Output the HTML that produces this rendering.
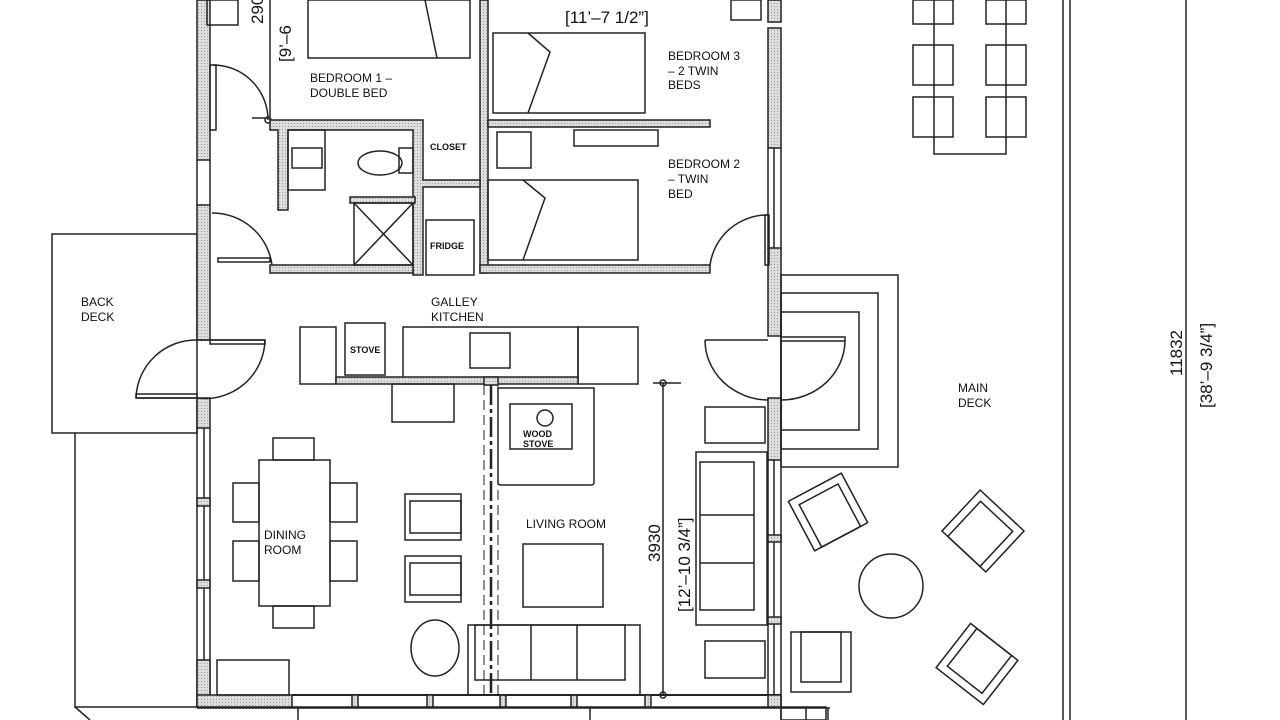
<!DOCTYPE html>
<html><head><meta charset="utf-8"><style>
html,body{margin:0;padding:0;background:#fff;}
svg{display:block}
text{font-family:"Liberation Sans",sans-serif;fill:#111}
</style></head><body>
<svg width="1280" height="720" viewBox="0 0 1280 720" xmlns="http://www.w3.org/2000/svg">
<defs>
<pattern id="h" width="3" height="3" patternUnits="userSpaceOnUse"><rect width="3" height="3" fill="#ddd"/><rect width="1" height="1" fill="#999"/></pattern>
</defs>
<g fill="none" stroke="#222" stroke-width="1.5">
<rect x="52" y="234" width="145" height="199"/>
<polyline points="75,433 75,707 197,707"/>
<line x1="75" y1="707" x2="90" y2="720"/>
<rect x="197" y="0" width="13" height="160" fill="url(#h)"/>
<rect x="197" y="205" width="13" height="135" fill="url(#h)"/>
<rect x="197" y="398" width="13" height="30" fill="url(#h)"/>
<line x1="197" y1="428" x2="197" y2="707"/><line x1="204" y1="428" x2="204" y2="660"/><line x1="210" y1="428" x2="210" y2="695"/>
<rect x="197" y="498" width="13" height="8" fill="url(#h)"/><rect x="197" y="580" width="13" height="8" fill="url(#h)"/>
<rect x="197" y="660" width="13" height="47" fill="url(#h)"/>
<line x1="197" y1="160" x2="197" y2="205"/><line x1="210" y1="160" x2="210" y2="205"/>
<rect x="197" y="695" width="95" height="12" fill="url(#h)"/>
<line x1="292" y1="695" x2="781" y2="695" stroke-width="2"/>
<line x1="292" y1="707" x2="781" y2="707"/>
<rect x="352" y="695" width="6" height="12" fill="url(#h)"/><rect x="427" y="695" width="6" height="12" fill="url(#h)"/>
<rect x="500" y="695" width="6" height="12" fill="url(#h)"/><rect x="571" y="695" width="6" height="12" fill="url(#h)"/>
<rect x="645" y="695" width="6" height="12" fill="url(#h)"/><rect x="768" y="695" width="13" height="12" fill="url(#h)"/>
<line x1="197" y1="708" x2="830" y2="708"/>
<line x1="298" y1="708" x2="298" y2="720"/><line x1="590" y1="708" x2="590" y2="720"/>
<line x1="781" y1="708" x2="781" y2="720"/><line x1="806" y1="708" x2="806" y2="720"/><line x1="828" y1="708" x2="828" y2="720"/>
<rect x="768" y="0" width="13" height="22" fill="url(#h)"/>
<rect x="768" y="28" width="13" height="120" fill="url(#h)"/>
<line x1="768" y1="148" x2="768" y2="250"/><line x1="774" y1="148" x2="774" y2="250"/><line x1="781" y1="148" x2="781" y2="250"/>
<rect x="768" y="248" width="13" height="88" fill="url(#h)"/>
<rect x="768" y="398" width="13" height="62" fill="url(#h)"/>
<line x1="768" y1="460" x2="768" y2="695"/><line x1="774" y1="460" x2="774" y2="695"/><line x1="781" y1="460" x2="781" y2="707"/>
<rect x="768" y="535" width="13" height="7" fill="url(#h)"/><rect x="768" y="617" width="13" height="7" fill="url(#h)"/>
<rect x="207" y="0" width="31" height="25"/>
<line x1="270" y1="0" x2="270" y2="120"/>
<rect x="308" y="0" width="162" height="58"/>
<line x1="425" y1="0" x2="437" y2="58"/>
<rect x="210" y="65" width="6" height="65"/>
<path d="M213,65 A55,55 0 0 1 268,120"/>
<circle cx="268" cy="120" r="3"/><line x1="252" y1="118" x2="268" y2="118"/>
<rect x="480" y="0" width="8" height="273" fill="url(#h)"/>
<rect x="488" y="120" width="222" height="7" fill="url(#h)"/>
<rect x="480" y="265" width="230" height="8" fill="url(#h)"/>
<path d="M270,120 H423 V180 H480 V187 H423 V275 H413 V130 H288 V210 H278 V130 H270 Z" fill="url(#h)"/>
<rect x="270" y="265" width="143" height="8" fill="url(#h)"/>
<rect x="350" y="197" width="65" height="6" fill="url(#h)"/>
<rect x="288" y="130" width="37" height="60"/>
<rect x="292" y="148" width="30" height="20"/>
<ellipse cx="380" cy="163" rx="22" ry="12"/>
<rect x="399" y="148" width="14" height="25"/>
<rect x="354" y="203" width="59" height="62"/>
<line x1="354" y1="203" x2="413" y2="265"/><line x1="413" y1="203" x2="354" y2="265"/>
<path d="M212,213 A60,60 0 0 1 272,265"/>
<rect x="218" y="258" width="52" height="4"/>
<rect x="426" y="220" width="48" height="55"/>
<rect x="493" y="33" width="152" height="80"/>
<polyline points="528,33 550,52 528,113"/>
<rect x="731" y="0" width="30" height="20"/>
<rect x="497" y="132" width="34" height="36"/>
<rect x="574" y="130" width="84" height="16"/>
<rect x="488" y="180" width="150" height="80"/>
<polyline points="523,180 545,198 523,260"/>
<path d="M710,265 A58,58 0 0 1 768,215"/>
<rect x="765" y="215" width="4" height="50"/>
<path d="M197,340 L265,340 M265,340 A60,60 0 0 1 197,398 M197,398 L136,398 M136,398 A60,60 0 0 1 197,340"/>
<rect x="210" y="340" width="55" height="4"/><rect x="136" y="394" width="61" height="4"/>
<rect x="300" y="327" width="36" height="57"/>
<rect x="345" y="323" width="40" height="52"/>
<rect x="403" y="327" width="175" height="52"/>
<rect x="470" y="333" width="40" height="35"/>
<rect x="578" y="327" width="60" height="57"/>
<rect x="336" y="377" width="242" height="7" fill="url(#h)"/>
<rect x="484" y="377" width="14" height="8" fill="url(#h)"/>
<rect x="392" y="384" width="62" height="38"/>
<line x1="484" y1="385" x2="484" y2="695" stroke-dasharray="10,5" stroke-width="1"/>
<line x1="491" y1="385" x2="491" y2="695" stroke-width="2.5" stroke-dasharray="20,4,4,4"/>
<line x1="498" y1="385" x2="498" y2="695" stroke-dasharray="10,5" stroke-width="1"/>
<path d="M498,388 H594 V482 Q594,485 591,485 H501 Q498,485 498,482 Z"/>
<rect x="510" y="404" width="62" height="45"/>
<circle cx="545" cy="418" r="8"/>
<rect x="259" y="460" width="71" height="146"/>
<rect x="273" y="438" width="41" height="22"/><rect x="273" y="606" width="41" height="22"/>
<rect x="233" y="483" width="26" height="39"/><rect x="233" y="541" width="26" height="40"/>
<rect x="330" y="483" width="27" height="39"/><rect x="330" y="541" width="27" height="40"/>
<rect x="217" y="660" width="72" height="35"/>
<rect x="405" y="494" width="56" height="46"/><rect x="410" y="501" width="51" height="32"/>
<rect x="405" y="556" width="56" height="46"/><rect x="410" y="563" width="51" height="32"/>
<rect x="523" y="544" width="80" height="63"/>
<ellipse cx="435" cy="648" rx="24" ry="28"/>
<rect x="468" y="625" width="172" height="70"/>
<rect x="475" y="625" width="150" height="55"/>
<line x1="531" y1="625" x2="531" y2="680"/><line x1="577" y1="625" x2="577" y2="680"/>
<rect x="696" y="452" width="71" height="173"/>
<rect x="700" y="462" width="54" height="148"/>
<line x1="700" y1="515" x2="754" y2="515"/><line x1="700" y1="563" x2="754" y2="563"/>
<rect x="705" y="407" width="60" height="36"/>
<rect x="705" y="641" width="60" height="37"/>
<line x1="663" y1="383" x2="663" y2="695"/>
<line x1="653" y1="383" x2="681" y2="383"/>
<circle cx="663" cy="383" r="3"/><circle cx="663" cy="695" r="3"/>
<path d="M705,340 H768 M705,340 A64,60 0 0 0 768,400"/>
<path d="M781,337 H845 V341 H781 M845,341 A64,60 0 0 1 781,400"/>
<rect x="781" y="275" width="117" height="192"/>
<rect x="781" y="293" width="97" height="156"/>
<rect x="781" y="312" width="78" height="118"/>
<g transform="translate(828,512) rotate(-28)"><rect x="-30" y="-28" width="60" height="56"/><rect x="-22" y="-20" width="44" height="48"/></g>
<g transform="translate(983,531) rotate(43)"><rect x="-30" y="-28" width="60" height="56"/><rect x="-22" y="-20" width="44" height="48"/></g>
<g transform="translate(977,664) rotate(38)"><rect x="-30" y="-28" width="60" height="56"/><rect x="-22" y="-28" width="44" height="48"/></g>
<circle cx="891" cy="586" r="32"/>
<rect x="791" y="632" width="60" height="60"/><rect x="801" y="632" width="40" height="50"/>
<rect x="781" y="707" width="45" height="13"/>
<rect x="913" y="0" width="40" height="24"/><rect x="986" y="0" width="40" height="24"/>
<rect x="913" y="45" width="40" height="40"/><rect x="986" y="45" width="40" height="40"/>
<rect x="913" y="97" width="40" height="40"/><rect x="986" y="97" width="40" height="40"/>
<polyline points="934,0 934,154 1006,154 1006,0"/>
<line x1="1063" y1="0" x2="1063" y2="720"/><line x1="1070" y1="0" x2="1070" y2="720"/>
<line x1="1186" y1="0" x2="1186" y2="720"/>
</g>
<g font-size="12">
<text x="310" y="82">BEDROOM 1 –</text><text x="310" y="97">DOUBLE BED</text>
<text x="668" y="60">BEDROOM 3</text><text x="668" y="75">– 2 TWIN</text><text x="668" y="89">BEDS</text>
<text x="668" y="168">BEDROOM 2</text><text x="668" y="183">–  TWIN</text><text x="668" y="198">BED</text>
<text x="431" y="306">GALLEY</text><text x="431" y="321">KITCHEN</text>
<text x="81" y="306">BACK</text><text x="81" y="321">DECK</text>
<text x="264" y="539">DINING</text><text x="264" y="554">ROOM</text>
<text x="526" y="528">LIVING  ROOM</text>
<text x="958" y="392">MAIN</text><text x="958" y="407">DECK</text>
</g>
<g font-size="9" font-weight="bold">
<text x="430" y="150">CLOSET</text>
<text x="430" y="249">FRIDGE</text>
<text x="350" y="353">STOVE</text>
<text x="523" y="437">WOOD</text><text x="523" y="447">STOVE</text>
</g>
<g font-size="17">
<text x="565" y="23">[11’–7 1/2”]</text>
<text transform="translate(660,562) rotate(-90)">3930</text>
<text transform="translate(690,612) rotate(-90)">[12’–10 3/4”]</text>
<text transform="translate(1182,376) rotate(-90)">11832</text>
<text transform="translate(1212,408) rotate(-90)">[38’–9 3/4”]</text>
<text transform="translate(291,62) rotate(-90)">[9’–6</text>
<text transform="translate(263,24) rotate(-90)">290</text>
</g>
</svg>
</body></html>
